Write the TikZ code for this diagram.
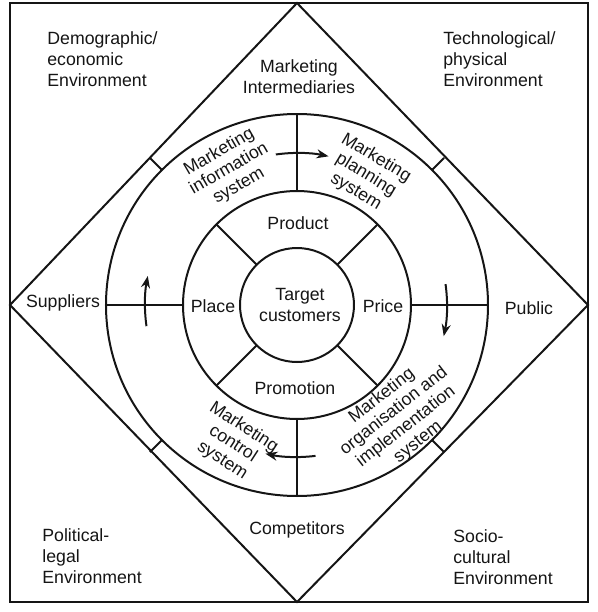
\documentclass[tikz,border=0pt]{standalone}
\usepackage{fontspec}
\setmainfont{Liberation Sans}
\usepackage{xcolor}
\usepackage{tikz}
\usetikzlibrary{arrows.meta}
\definecolor{PlanInk}{HTML}{151515}
\newcommand\planfont{\fontsize{8.85}{10.5}\selectfont}
\newcommand\sysfont{\fontsize{8.85}{9.8}\selectfont}

\begin{document}
\begin{tikzpicture}[x=0.5pt,y=0.5pt,
    box/.style={draw=PlanInk,line width=1pt},
    flow/.style={draw=PlanInk,line width=1pt,-{Stealth[length=6pt,width=4.5pt]}},
    envtext/.style={anchor=west,align=left,inner sep=0pt,text=PlanInk,font=\planfont},
    ringtext/.style={align=center,inner sep=0pt,text=PlanInk,font=\planfont},
    systext/.style={align=center,inner sep=0pt,text=PlanInk,font=\sysfont}]
    \useasboundingbox (-297,-307) rectangle (301,305);
    % frame and diamond
    \draw[box,line width=1.3pt] (-287,-297) rectangle (291,302);
    \draw[box] (0,302) -- (291,0) -- (0,-297) -- (-287,0) -- cycle;
    % rings
    \draw[box] (0,0) circle[radius=191];
    \draw[box] (0,0) circle[radius=114];
    \draw[box] (0,0) circle[radius=57];
    \draw[box] (0,114) -- (0,191);
    \draw[box] (0,-114) -- (0,-191);
    \draw[box] (-114,0) -- (-191,0);
    \draw[box] (114,0) -- (191,0);
    \foreach \a in {45,135,225,315} {
      \draw[box] (\a:57) -- (\a:114);
      \draw[box] (\a:191) -- (\a:208);
    }
    % flow arrows
    \draw[flow] (98:152) arc[start angle=98,end angle=78,radius=152];
    \draw[flow] (8:150) arc[start angle=8,end angle=-12,radius=150];
    \draw[flow] (277:152) arc[start angle=277,end angle=258,radius=152];
    \draw[flow] (188:152) arc[start angle=188,end angle=169,radius=152];
    % environments
    \node[envtext] (demo) at (-250,246) {Demographic/\\economic\\Environment};
    \node[envtext] (tech) at (146,246) {Technological/\\physical\\Environment};
    \node[envtext] (poli) at (-255,-251) {Political-\\legal\\Environment};
    \node[envtext] (soci) at (156,-252) {Socio-\\cultural\\Environment};
    % outer actors
    \node[ringtext] (inter) at (2,228) {Marketing\\Intermediaries};
    \node[ringtext] (supp) at (-234,2) {Suppliers};
    \node[ringtext] (pub) at (232,-3) {Public};
    \node[ringtext] (comp) at (0,-225) {Competitors};
    % marketing mix
    \node[ringtext] (prod) at (1,82) {Product};
    \node[ringtext] (place) at (-84,-1) {Place};
    \node[ringtext] (price) at (86,-1) {Price};
    \node[ringtext] (promo) at (-2,-83) {Promotion};
    \node[ringtext] (target) at (3,0) {Target\\customers};
    % systems
    \node[systext,rotate=30] (info) at (-68,136) {Marketing\\information\\system};
    \node[systext,rotate=-31] (plan) at (69,130) {Marketing\\planning\\system};
    \node[systext,rotate=-33] (ctrl) at (-64,-139) {Marketing\\control\\system};
    \node[systext,rotate=38] (org) at (103,-114) {Marketing\\organisation and\\implementation\\system};
\end{tikzpicture}
\end{document}
